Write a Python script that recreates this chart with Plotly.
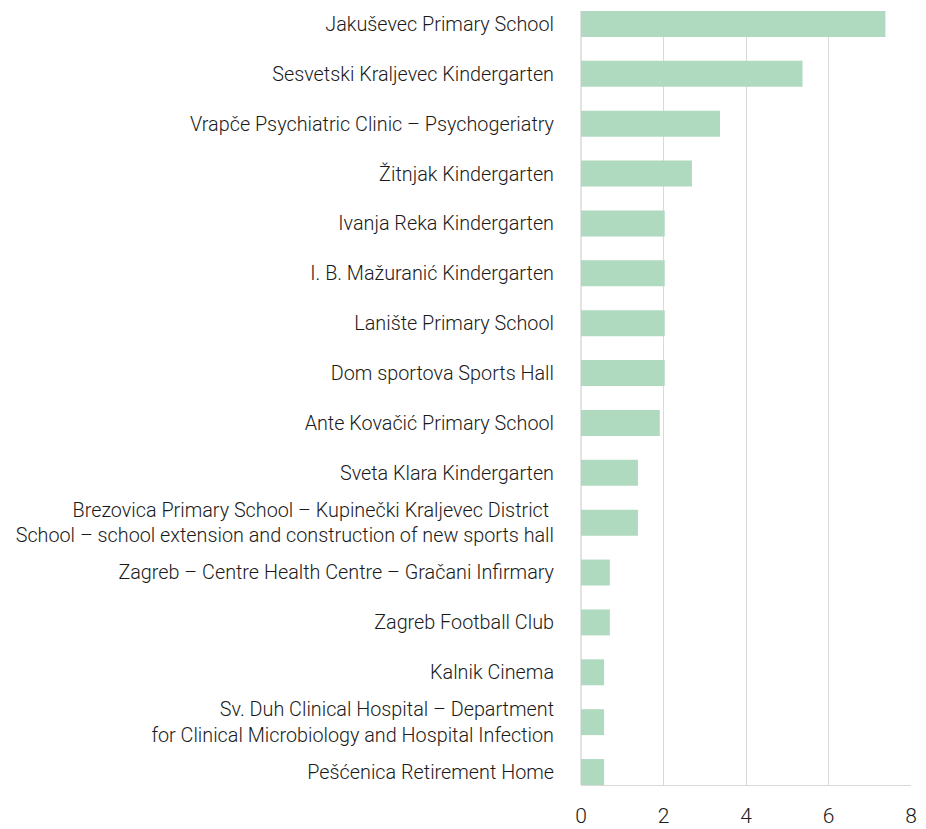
import plotly.graph_objects as go

categories = [
    "Jakuševec Primary School",
    "Sesvetski Kraljevec Kindergarten",
    "Vrapče Psychiatric Clinic – Psychogeriatry",
    "Žitnjak Kindergarten",
    "Ivanja Reka Kindergarten",
    "I. B. Mažuranić Kindergarten",
    "Lanište Primary School",
    "Dom sportova Sports Hall",
    "Ante Kovačić Primary School",
    "Sveta Klara Kindergarten",
    "Brezovica Primary School – Kupinečki Kraljevec District <br>School – school extension and construction of new sports hall",
    "Zagreb – Centre Health Centre – Gračani Infirmary",
    "Zagreb Football Club",
    "Kalnik Cinema",
    "Sv. Duh Clinical Hospital – Department<br>for Clinical Microbiology and Hospital Infection",
    "Pešćenica Retirement Home",
]
values = [7.38, 5.37, 3.37, 2.69, 2.03, 2.03, 2.03, 2.03, 1.91, 1.38, 1.38, 0.70, 0.70, 0.56, 0.56, 0.56]
x_ticks = [0, 2, 4, 6, 8]

fig = go.Figure(go.Bar(
    x=values, y=categories, orientation="h",
    marker=dict(color="#afdac0", line=dict(width=0)),
    width=0.52,
))

font_family = "Roboto"
fig.update_layout(
    width=926, height=829,
    margin=dict(l=581, r=15, t=11, b=44),
    plot_bgcolor="white", paper_bgcolor="white",
    showlegend=False,
    font=dict(family=font_family, size=19.8, color="#1a1a1a"),
)
fig.update_yaxes(
    range=[15.26, -0.26],
    ticks="", ticklabelstandoff=26, automargin=False,
    showgrid=False, showline=False, zeroline=False,
    tickfont=dict(family=font_family, size=19.8, color="#1a1a1a", weight=300),
)
fig.update_xaxes(
    range=[0, 8], tickvals=x_ticks, ticktext=[str(t) for t in x_ticks],
    showgrid=True, gridcolor="#d9d9d9", gridwidth=1,
    zeroline=True, zerolinecolor="#e3e3e3", zerolinewidth=2,
    showline=True, linecolor="#d9d9d9", linewidth=1,
    ticks="", ticklabelstandoff=12, automargin=False,
    tickfont=dict(family=font_family, size=21, color="#1a1a1a", weight=300),
)

fig.write_html("out.html")
